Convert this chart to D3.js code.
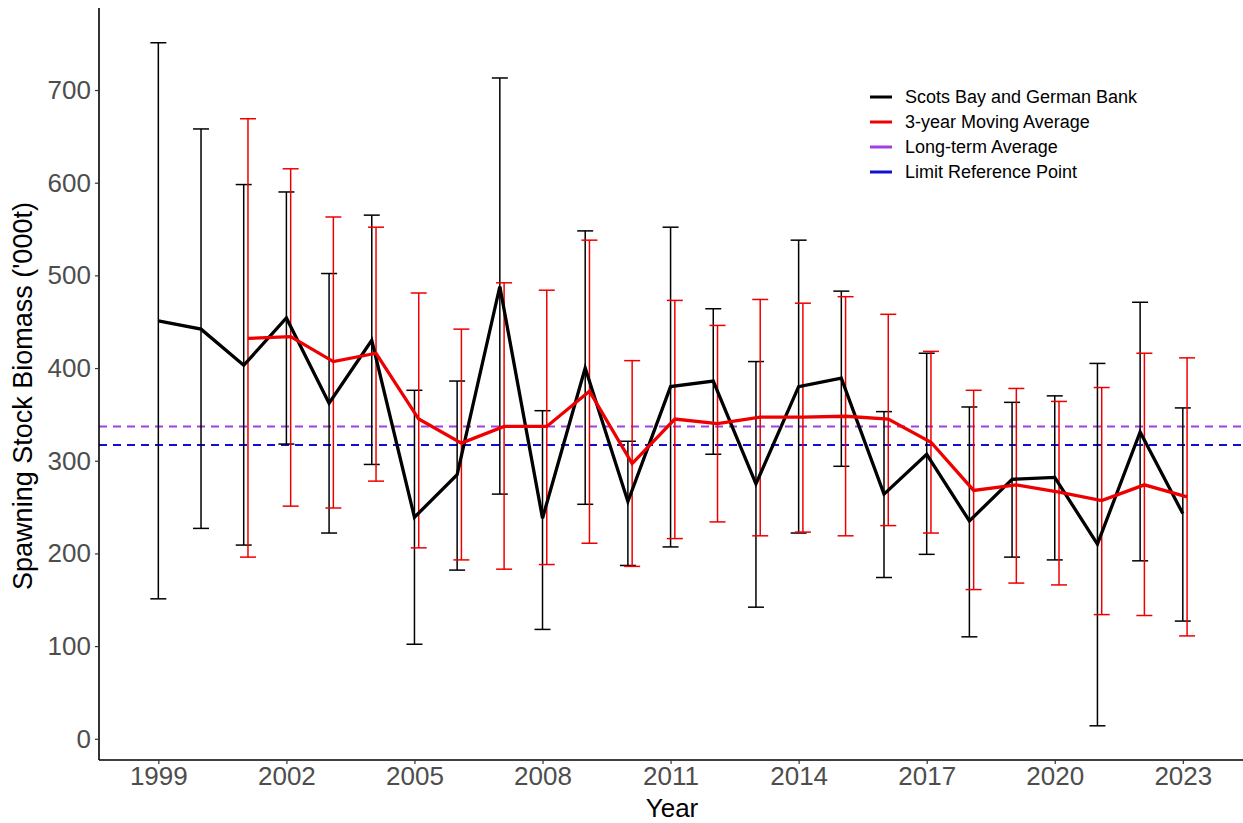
<!DOCTYPE html>
<html>
<head>
<meta charset="utf-8">
<script src="https://cdn.jsdelivr.net/npm/d3@7"></script>
<style>
  body { margin: 0; background: #fff; }
  svg { display: block; font-family: "Liberation Sans", Arial, sans-serif; }
</style>
</head>
<body>
<svg id="chart" width="1243" height="823"></svg>
<script>
// survey index (black)
var years = [1999,2000,2001,2002,2003,2004,2005,2006,2007,2008,2009,2010,2011,2012,2013,2014,2015,2016,2017,2018,2019,2020,2021,2022,2023];
var ssb    = [451,442,403,454,362,430,239,285,488,238,400,256,380,386,275,380,389,264,307,235,280,282,210,331,243];
var ssbLow = [151,227,209,318,222,296,102,182,264,118,253,187,207,307,142,222,294,174,199,110,196,193,14,192,127];
var ssbUp  = [751,658,598,590,502,565,376,386,713,354,548,321,552,464,407,538,483,353,416,358,363,370,405,471,357];

// 3-year moving average (red), starts 2001
var maYears = [2001,2002,2003,2004,2005,2006,2007,2008,2009,2010,2011,2012,2013,2014,2015,2016,2017,2018,2019,2020,2021,2022,2023];
var ma    = [432,434,407,416,345,319,337,337,375,297,345,340,347,347,348,345,320,268,274,266,257,274,261];
var maLow = [196,251,249,278,206,193,183,188,211,186,216,234,219,223,219,230,222,161,168,166,134,133,111];
var maUp  = [669,615,563,552,481,442,492,484,538,408,473,446,474,470,477,458,418,376,378,364,379,416,411];

var longTermAvg = 337;
var limitRef = 317;

var yTicks = [0,100,200,300,400,500,600,700];
var xTicks = [1999,2002,2005,2008,2011,2014,2017,2020,2023];

var legendItems = [
  {label: "Scots Bay and German Bank", color: "#000000"},
  {label: "3-year Moving Average", color: "#ee0000"},
  {label: "Long-term Average", color: "#a040e0"},
  {label: "Limit Reference Point", color: "#1010d0"}
];

(function(){
  var svg = d3.select("#chart");
  var pLeft = 99, pRight = 1243, pTop = 8, pBottom = 760;

  var x = d3.scaleLinear().domain([1997.61, 2024.41]).range([pLeft, pRight]);
  var y = d3.scaleLinear().domain([-22.9, 788.5]).range([pBottom, pTop]);
  var dodge = 0.1;

  var black = "#000000", red = "#ee0000";

  // reference lines
  svg.append("line")
    .attr("x1", pLeft).attr("x2", pRight)
    .attr("y1", y(longTermAvg)).attr("y2", y(longTermAvg))
    .style("stroke", "#a040e0").style("stroke-width", 2)
    .style("stroke-dasharray", "8,6");
  svg.append("line")
    .attr("x1", pLeft).attr("x2", pRight)
    .attr("y1", y(limitRef)).attr("y2", y(limitRef))
    .style("stroke", "#1010d0").style("stroke-width", 2)
    .style("stroke-dasharray", "8,6");

  function errorBars(xs, lows, ups, color, off){
    var g = svg.append("g");
    var cap = 8;
    xs.forEach(function(yr, i){
      var cx = x(yr + off);
      g.append("line")
        .attr("x1", cx).attr("x2", cx)
        .attr("y1", y(lows[i])).attr("y2", y(ups[i]))
        .style("stroke", color).style("stroke-width", 1.5);
      [lows[i], ups[i]].forEach(function(v){
        g.append("line")
          .attr("x1", cx - cap).attr("x2", cx + cap)
          .attr("y1", y(v)).attr("y2", y(v))
          .style("stroke", color).style("stroke-width", 1.5);
      });
    });
  }

  errorBars(years, ssbLow, ssbUp, black, 0);
  errorBars(maYears, maLow, maUp, red, dodge);

  var lineGen = d3.line()
    .x(function(d){ return x(d[0]); })
    .y(function(d){ return y(d[1]); });

  svg.append("path")
    .datum(years.map(function(yr, i){ return [yr, ssb[i]]; }))
    .attr("d", lineGen)
    .style("fill", "none").style("stroke", black)
    .style("stroke-width", 3.3);

  svg.append("path")
    .datum(maYears.map(function(yr, i){ return [yr + dodge, ma[i]]; }))
    .attr("d", lineGen)
    .style("fill", "none").style("stroke", red)
    .style("stroke-width", 3.3);

  // axes
  var yAxis = svg.append("g")
    .attr("transform", "translate(" + pLeft + ",0)")
    .call(d3.axisLeft(y).tickValues(yTicks).tickSize(4).tickPadding(4));
  var xAxis = svg.append("g")
    .attr("transform", "translate(0," + pBottom + ")")
    .call(d3.axisBottom(x).tickValues(xTicks).tickFormat(d3.format("d")).tickSize(4).tickPadding(3));

  [yAxis, xAxis].forEach(function(ax){
    ax.select(".domain").style("stroke", "#000").style("stroke-width", 1.6);
    ax.selectAll(".tick line").style("stroke", "#333").style("stroke-width", 1.2);
    ax.selectAll(".tick text")
      .style("fill", "#4d4d4d")
      .style("font-size", "26px")
      .style("font-family", "Liberation Sans, Arial, sans-serif");
  });
  yAxis.select(".domain").attr("d", "M0," + pTop + "V" + pBottom);
  xAxis.select(".domain").attr("d", "M" + pLeft + ",0H" + pRight);

  svg.append("text")
    .attr("x", (pLeft + pRight) / 2 + 1).attr("y", 817)
    .attr("text-anchor", "middle")
    .style("font-size", "26px").style("fill", "#000")
    .text("Year");

  svg.append("text")
    .attr("transform", "translate(32," + 396 + ") rotate(-90)")
    .attr("text-anchor", "middle")
    .style("font-size", "27px").style("fill", "#000")
    .text("Spawning Stock Biomass ('000t)");

  // legend
  var legend = svg.append("g").attr("transform", "translate(870,97)");
  legendItems.forEach(function(item, i){
    var row = legend.append("g").attr("transform", "translate(0," + (i * 25) + ")");
    row.append("line")
      .attr("x1", 0).attr("x2", 22).attr("y1", 0).attr("y2", 0)
      .style("stroke", item.color).style("stroke-width", 3);
    row.append("text")
      .attr("x", 35).attr("y", 6)
      .style("font-size", "18px").style("fill", "#000")
      .text(item.label);
  });
})();
</script>
</body>
</html>
